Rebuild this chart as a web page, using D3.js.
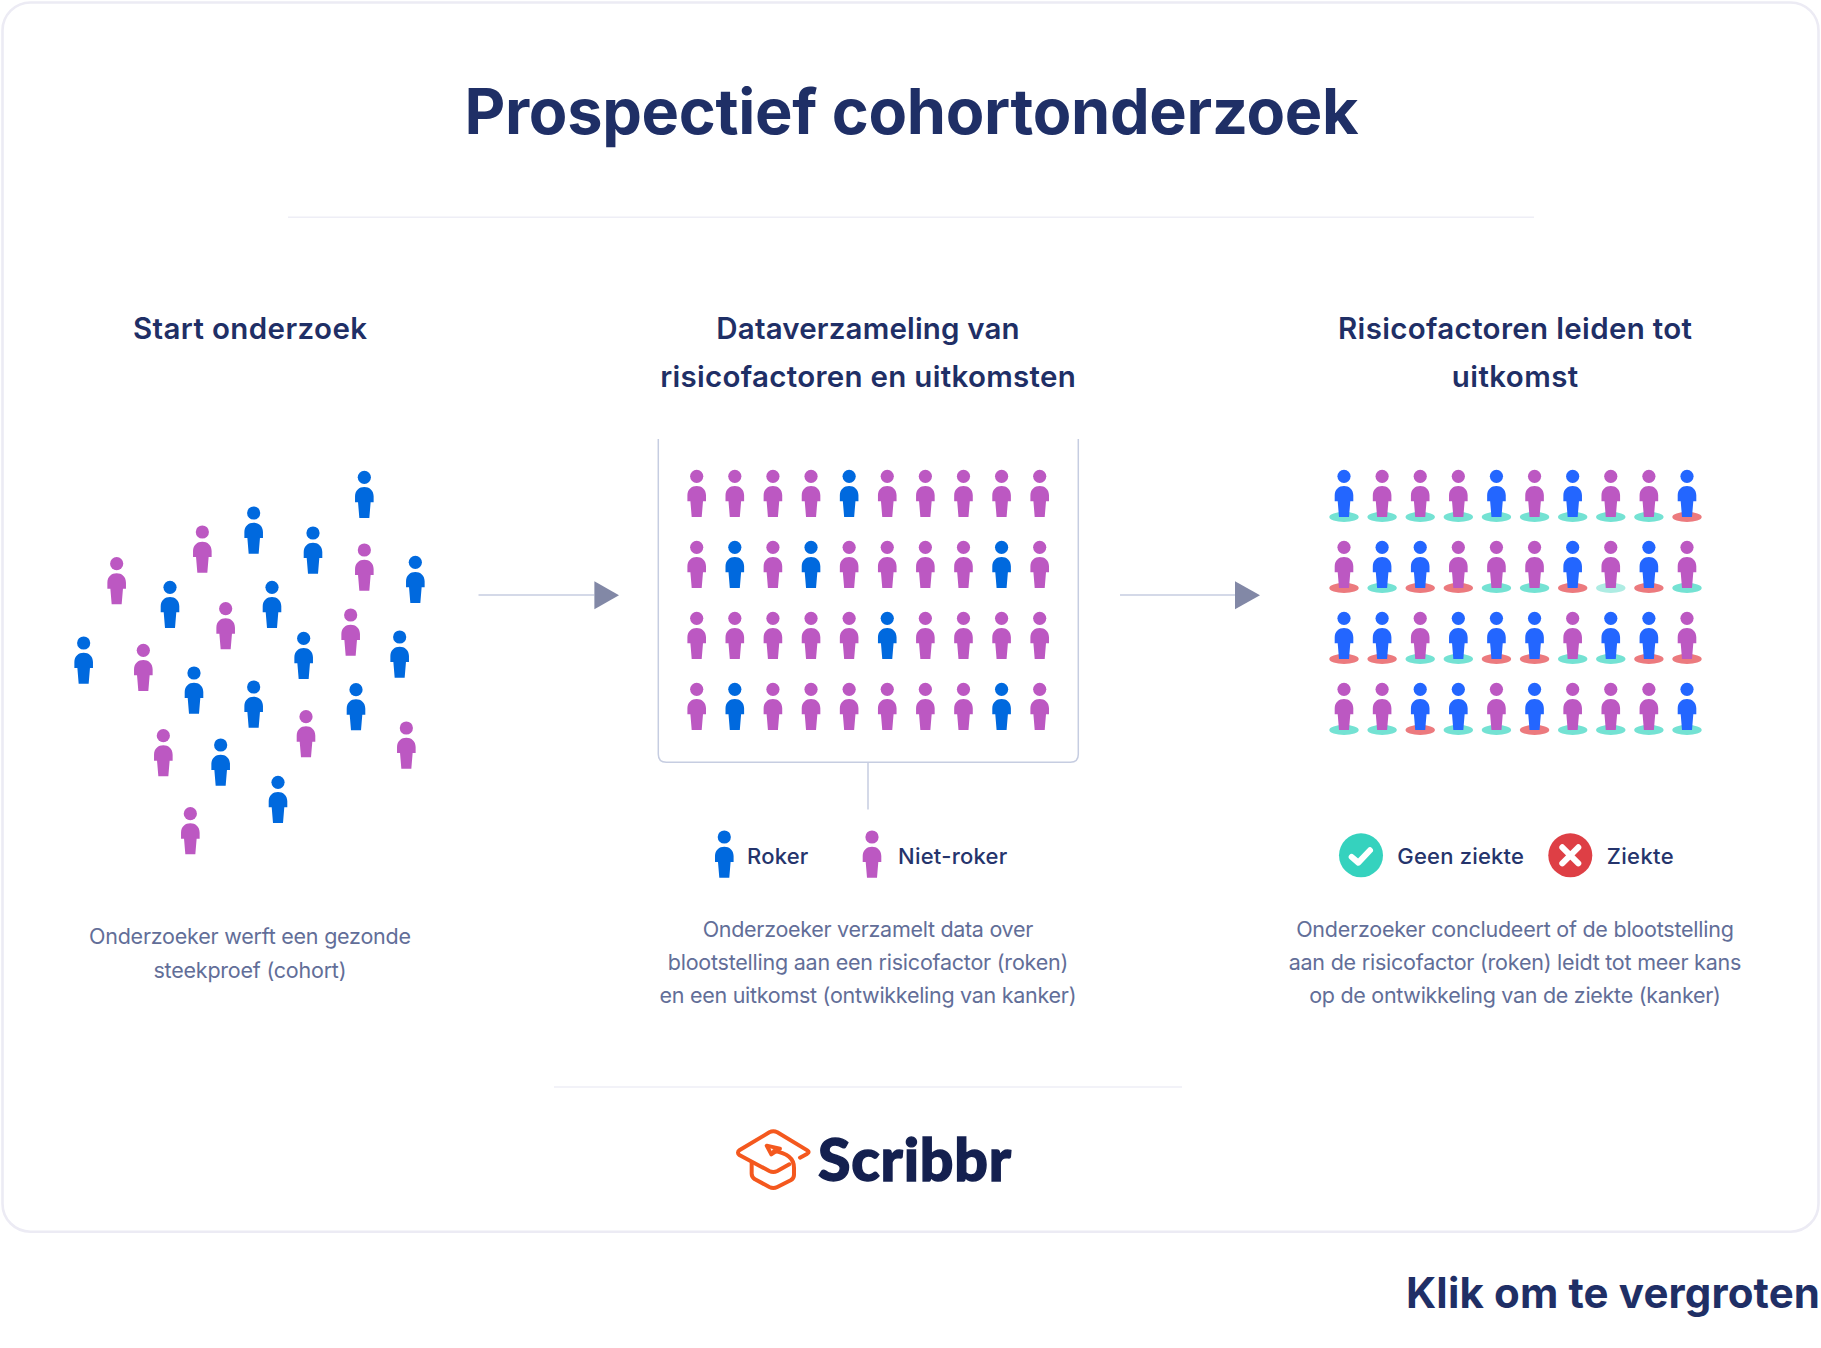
<!DOCTYPE html>
<html><head><meta charset="utf-8">
<script src="https://cdn.jsdelivr.net/npm/d3@7"></script>
<style>html,body{margin:0;padding:0;background:#fff}svg{display:block}text{font-family:Inter,sans-serif}</style>
</head><body><div id="c"></div>
<script>
// ---- data ----
const cohortX = [1093,761,607,939,1093,350,1246,510,816,677,1052,911,1199,251,430,582,761,1068,918,1219,490,662,834,571];
const cohortY = [169,276,333,336,387,428,424,499,499,563,582,652,648,666,688,756,798,806,887,921,944,972,1084,1178];
const cohortKind = ["B","B","P","B","P","P","B","B","B","P","P","B","B","B","P","B","B","B","P","P","P","B","B","P"];
const collectRows = [
  ["P","P","P","P","B","P","P","P","P","P"],
  ["P","B","P","B","P","P","P","P","B","P"],
  ["P","P","P","P","P","B","P","P","P","P"],
  ["P","B","P","P","P","P","P","P","B","P"]];
const outcomeRows = [
  ["B","P","P","P","B","P","B","P","P","B"],
  ["P","B","B","P","P","P","B","P","B","P"],
  ["B","B","P","B","B","B","P","B","B","P"],
  ["P","P","B","B","P","B","P","P","P","B"]];
const diseaseRows = [
  ["T","T","T","T","T","T","T","T","T","R"],
  ["R","T","R","R","T","T","R","F","R","T"],
  ["R","R","T","T","R","R","T","T","R","R"],
  ["T","T","R","T","T","R","T","T","T","T"]];
const titleText = "Prospectief cohortonderzoek";
const heads = [["Start onderzoek"],["Dataverzameling van","risicofactoren en uitkomsten"],["Risicofactoren leiden tot","uitkomst"]];
const headWidths = [[234],[303.3,415.5],[354,126.5]];
const descs = [["Onderzoeker werft een gezonde","steekproef (cohort)"],
  ["Onderzoeker verzamelt data over","blootstelling aan een risicofactor (roken)","en een uitkomst (ontwikkeling van kanker)"],
  ["Onderzoeker concludeert of de blootstelling","aan de risicofactor (roken) leidt tot meer kans","op de ontwikkeling van de ziekte (kanker)"]];
const descWidths = [[322,193],[330.6,400.5,417],[437.7,452.7,411.7]];
const legendSmoke = ["Roker","Niet-roker"];
const legendHealth = ["Geen ziekte","Ziekte"];

// ---- setup ----
const NAVY="#1f2f66", NAVY2="#25346c", GREY="#626e98", LINE="#c6cde1", RULE="#eeeef6";
const DY=1;
const svg=d3.select("#c").append("svg").attr("width",1821).attr("height",1348);
const color={B:"#0069de",P:"#bc58c2"}, colorR={B:"#2366ff",P:"#bc58c2"};
const pad={T:"#74e2d3",R:"#ec7a7e",F:"#aeece3"};
const bodyPath="M-9.3,25L-9.3,19C-9.3,13 -5,9.7 0,9.7C5,9.7 9.3,13 9.3,19L9.3,25L6.3,25L5,40.7L-5,40.7L-6.3,25Z";
function person(g,x,y,fill){
  const p=g.append("g").attr("transform",`translate(${x},${y})`).attr("fill",fill);
  p.append("circle").attr("r",6.6);
  p.append("path").attr("d",bodyPath);
}
function label(str,x,y,size,weight,fill,anchor,width){
  const t=svg.append("text").attr("x",x).attr("y",y).attr("font-size",size).attr("font-weight",weight)
    .attr("fill",fill).attr("text-anchor",anchor).text(str);
  if(width) t.attr("textLength",width).attr("lengthAdjust","spacing");
  return t;
}

// card + rules
svg.append("rect").attr("x",2.5).attr("y",2.5).attr("width",1816).attr("height",1229.2).attr("rx",28)
  .attr("fill","#fff").attr("stroke","#ecebf4").attr("stroke-width",2.6);
label(titleText,911.5,134,63,650,NAVY,"middle",894);
[[288,1534,216.3+DY],[554,1182,1086+DY]].forEach(d=>svg.append("line").attr("x1",d[0]).attr("x2",d[1]).attr("y1",d[2]).attr("y2",d[2]).attr("stroke",RULE).attr("stroke-width",1.4));

// headings and descriptions
const centers=[250,868,1515];
heads.forEach((ls,i)=>ls.forEach((s,j)=>label(s,centers[i],339.3+48*j,29.5,600,NAVY,"middle",headWidths[i][j])));
const descTop=[943.3,935.7,935.7], descStep=[33.5,33,33];
descs.forEach((ls,i)=>ls.forEach((s,j)=>label(s,centers[i],descTop[i]+DY+descStep[i]*j,21.5,400,GREY,"middle",descWidths[i][j])));

// cohort scatter
const sx=d3.scaleLinear().domain([0,1440]).range([0,480]);
const sy=d3.scaleLinear().domain([0,1440]).range([420+DY,900+DY]);
const g1=svg.append("g");
cohortX.forEach((v,i)=>person(g1,sx(v),sy(cohortY[i]),color[cohortKind[i]]));

// grids
const colsIdx=d3.range(10), rowsIdx=d3.range(4);
const midX=d3.scalePoint().domain(colsIdx).range([696.7,1039.7]);
const rightX=d3.scalePoint().domain(colsIdx).range([1344,1687]);
const rowY=d3.scalePoint().domain(rowsIdx).range([475.3+DY,688.3+DY]);
const g2=svg.append("g");
collectRows.forEach((r,j)=>r.forEach((k,i)=>person(g2,midX(i),rowY(j),color[k])));
const g3=svg.append("g");
diseaseRows.forEach((r,j)=>r.forEach((k,i)=>g3.append("ellipse").attr("cx",rightX(i)).attr("cy",rowY(j)+40.7).attr("rx",14.7).attr("ry",5).attr("fill",pad[k])));
outcomeRows.forEach((r,j)=>r.forEach((k,i)=>person(g3,rightX(i),rowY(j),colorR[k])));

// box
svg.append("path").attr("d","M658.3,439V754.2Q658.3,762.2 666.3,762.2H1070.3Q1078.3,762.2 1078.3,754.2V439")
  .attr("fill","none").attr("stroke",LINE).attr("stroke-width",1.5);
svg.append("line").attr("x1",868).attr("x2",868).attr("y1",762.2).attr("y2",809.5).attr("stroke",LINE).attr("stroke-width",1.5);

// arrows
[[478.5,594.4,619],[1120,1235,1260]].forEach(a=>{
  svg.append("line").attr("x1",a[0]).attr("x2",a[1]).attr("y1",595).attr("y2",595).attr("stroke",LINE).attr("stroke-width",1.6);
  svg.append("path").attr("d",`M${a[1]},581.2L${a[2]},595.2L${a[1]},609.2Z`).attr("fill","#8288a6");
});

// legends
person(svg,724.3,836+DY,color.B); person(svg,872,836+DY,color.P);
label(legendSmoke[0],747,864.3,22,500,NAVY2,"start",61.3);
label(legendSmoke[1],898,864.3,22,500,NAVY2,"start",109.3);
const ok=svg.append("g").attr("transform","translate(1361,855.3)");
ok.append("circle").attr("r",22).attr("fill","#35d2be");
ok.append("path").attr("d","M-9.3,1.7L-2.7,7.3L9,-5").attr("fill","none").attr("stroke","#fff").attr("stroke-width",6).attr("stroke-linecap","round").attr("stroke-linejoin","round");
const no=svg.append("g").attr("transform","translate(1570.3,855.3)");
no.append("circle").attr("r",22).attr("fill","#de3f45");
no.append("path").attr("d","M-8,-8L8,8M8,-8L-8,8").attr("stroke","#fff").attr("stroke-width",6).attr("stroke-linecap","round");
label(legendHealth[0],1397.3,864.3,22,500,NAVY2,"start",126.7);
label(legendHealth[1],1606.7,864.3,22,500,NAVY2,"start",67);

// logo
const logo=svg.append("g").attr("transform","translate(700,1101) scale(.3333)")
  .attr("fill","none").attr("stroke","#f4581e").attr("stroke-width",12).attr("stroke-linecap","round").attr("stroke-linejoin","round");
logo.append("path").attr("d","M300,170L322,158Q330,153 322,148L232,94Q220,88 208,94L118,148Q110,155 118,162L208,210Q220,216 232,210L268,190");
logo.append("path").attr("d","M222,150C255,155 282,170 282,200L282,222Q282,232 272,238L232,258Q220,264 208,258L165,235Q155,228 155,218L155,185");
logo.append("path").attr("d","M200,134L240,143L214,160Z");
svg.append("text").attr("x",818).attr("y",1180.5).attr("font-size",59).attr("font-weight",900).attr("fill","#14204f")
  .attr("stroke","#14204f").attr("stroke-width",1.4)
  .attr("textLength",193).attr("lengthAdjust","spacing").style("font-family","Lato,sans-serif").text("Scribbr");

label("Klik om te vergroten",1406,1307.7,42,650,NAVY,"start",414);
</script></body></html>
